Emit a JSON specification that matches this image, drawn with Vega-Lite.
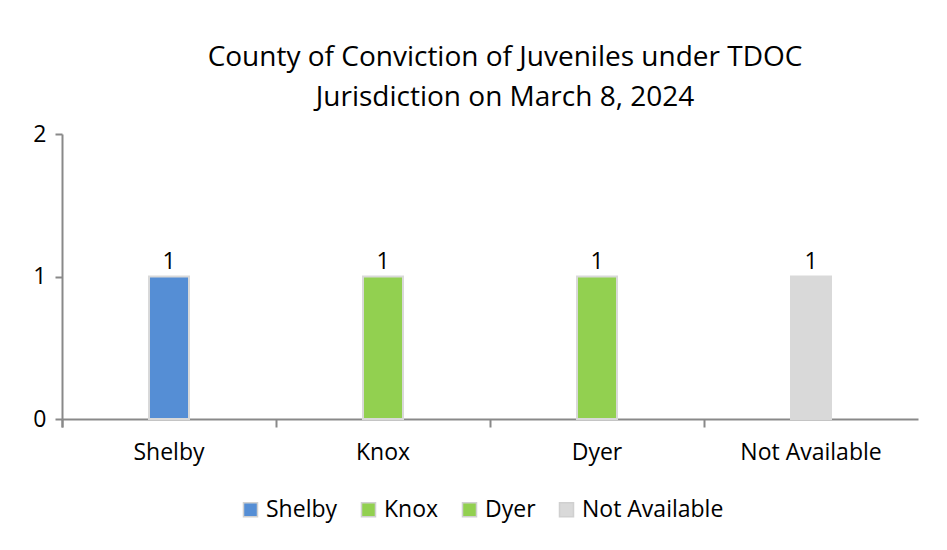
{
  "$schema": "https://vega.github.io/schema/vega-lite/v6.json",
  "autosize": {"type": "none"},
  "width": 856,
  "height": 285,
  "padding": {"left": 62, "top": 134, "right": 29, "bottom": 131},
  "background": "white",
  "title": {
    "text": ["County of Conviction of Juveniles under TDOC", "Jurisdiction on March 8, 2024"],
    "font": "Open Sans",
    "fontSize": 28,
    "fontWeight": "normal",
    "color": "#000000",
    "lineHeight": 40,
    "anchor": "middle",
    "dx": 15,
    "offset": 11
  },
  "data": {
    "values": [
      {"county": "Shelby", "count": 1},
      {"county": "Knox", "count": 1},
      {"county": "Dyer", "count": 1},
      {"county": "Not Available", "count": 1}
    ]
  },
  "config": {
    "view": {"stroke": null},
    "font": "Open Sans",
    "axis": {"labelFont": "Open Sans", "labelFontSize": 23, "labelColor": "#000000", "domainColor": "#898989", "tickColor": "#898989", "domainWidth": 2, "tickWidth": 2, "grid": false, "title": null}
  },
  "encoding": {
    "x": {"field": "county", "type": "nominal", "sort": null,
      "scale": {"paddingInner": 0, "paddingOuter": 0},
      "axis": {"labelAngle": 0, "labelPadding": 14, "bandPosition": 0, "tickExtra": true, "tickSize": 8}},
    "y": {"field": "count", "type": "quantitative", "scale": {"domain": [0, 2], "nice": false},
      "axis": {"tickCount": 2, "tickSize": 7, "labelPadding": 9, "labelOverlap": false}}
  },
  "layer": [
    {
      "mark": {"type": "bar", "width": {"band": 0.187}, "stroke": "#d9d9d9", "strokeWidth": 2},
      "encoding": {
        "color": {"field": "county", "type": "nominal", "sort": null,
          "scale": {"domain": ["Shelby", "Knox", "Dyer", "Not Available"], "range": ["#558ed5", "#92d050", "#92d050", "#d9d9d9"]},
          "legend": {"title": null, "orient": "none", "legendX": 177, "legendY": 364, "direction": "horizontal", "symbolType": "square", "symbolSize": 196, "symbolStrokeColor": "#d0d0d0", "symbolStrokeWidth": 1.5, "labelFont": "Open Sans", "labelFontSize": 23, "labelColor": "#000000", "columnPadding": 19, "labelOffset": 4}
        }
      }
    },
    {
      "mark": {"type": "text", "baseline": "bottom", "dy": -3, "font": "Open Sans", "fontSize": 23, "color": "#000000"},
      "encoding": {"text": {"field": "count", "type": "quantitative"}}
    }
  ]
}
